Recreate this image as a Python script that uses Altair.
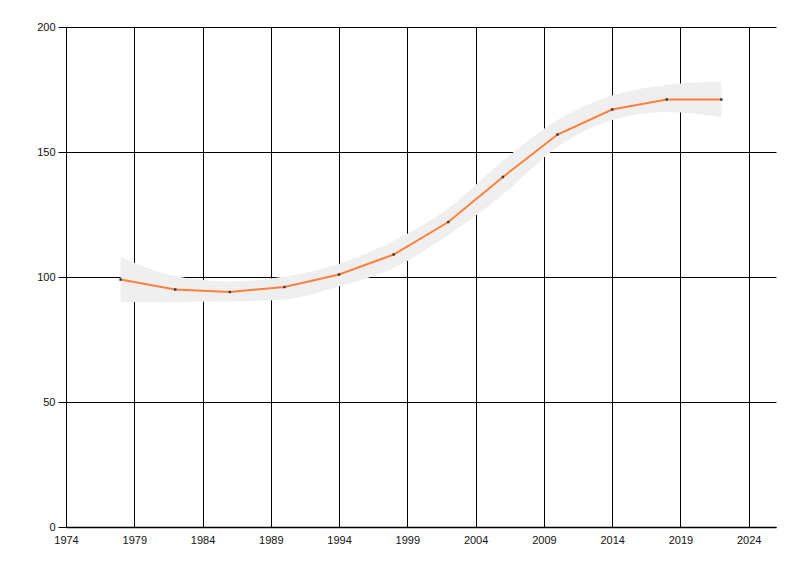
import altair as alt
import pandas as pd

years = [1978, 1982, 1986, 1990, 1994, 1998, 2002, 2006, 2010, 2014, 2018, 2022]
values = [99, 95, 94, 96, 101, 109, 122, 140, 157, 167, 171, 171]
band_upper = [108, 100.4, 98.2, 100.2, 105.3, 114.5, 127.5, 146.5, 162.8, 172.6, 176.8, 178.2]
band_lower = [90, 90, 90.2, 91, 96.3, 103.6, 116.8, 133, 152, 162.8, 166, 164]
x_ticks = [1974, 1979, 1984, 1989, 1994, 1999, 2004, 2009, 2014, 2019, 2024]
y_ticks = [0, 50, 100, 150, 200]

df = pd.DataFrame({"year": years, "value": values, "upper": band_upper, "lower": band_lower})

xscale = alt.Scale(domain=[1974, 2026], nice=False, zero=False)
yscale = alt.Scale(domain=[0, 200], nice=False)

xaxis = alt.Axis(values=x_ticks, format="d", grid=True, gridColor="black", gridOpacity=1,
                 gridWidth=1, ticks=False, domainColor="black", domainWidth=1.5,
                 labelFont="Liberation Sans", labelFontSize=11, labelColor="#111",
                 labelPadding=7, title=None, labelFlush=False)
yaxis = alt.Axis(values=y_ticks, grid=True, gridColor="black", gridOpacity=1, gridWidth=1,
                 ticks=True, tickColor="black", tickSize=8, domainColor="black",
                 labelFont="Liberation Sans", labelFontSize=11, labelColor="#111",
                 labelPadding=3, title=None)

base = alt.Chart(df)

band = base.mark_area(color="#efefef", opacity=1, interpolate="monotone").encode(
    x=alt.X("year:Q", scale=xscale, axis=xaxis),
    y=alt.Y("upper:Q", scale=yscale, axis=yaxis),
    y2="lower:Q",
)
line = base.mark_line(color="#ff7f3f", strokeWidth=2).encode(
    x=alt.X("year:Q", scale=xscale),
    y=alt.Y("value:Q", scale=yscale),
)
pts = base.mark_point(filled=True, shape="square", size=6, color="#3a3a3a", opacity=1).encode(
    x=alt.X("year:Q", scale=xscale),
    y=alt.Y("value:Q", scale=yscale),
)

chart = alt.layer(band, line, pts).properties(
    width=710, height=500,
    autosize=alt.AutoSizeParams(type="none"),
    padding={"left": 58, "top": 19, "right": 10, "bottom": 30},
).configure_view(stroke=None)

chart.save("out.html", embed_options={"renderer": "svg", "actions": False})
